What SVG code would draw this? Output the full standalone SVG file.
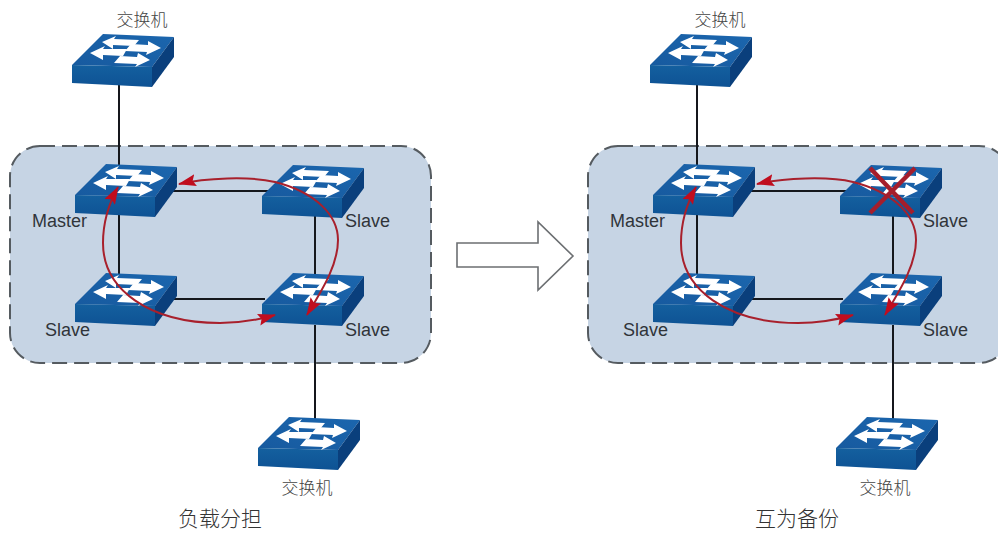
<svg xmlns="http://www.w3.org/2000/svg" xmlns:xlink="http://www.w3.org/1999/xlink" width="998" height="533" viewBox="0 0 998 533">
<style>
.panel{fill:#c6d4e4;stroke:#555b60;stroke-width:2;stroke-dasharray:15 7}
.link{fill:none;stroke:#15171c;stroke-width:2}
.red{fill:none;stroke:#a8202c;stroke-width:2}
.x{stroke:#a51e2c;stroke-width:4.5;fill:none}
.lab{font-family:"Liberation Sans",Arial,sans-serif;font-size:18px;fill:#30343a}
.cn{font-family:"Noto Sans CJK SC",sans-serif;font-size:17px;fill:#444;font-weight:300}
.cap{font-family:"Noto Sans CJK SC",sans-serif;font-size:21px;fill:#333;font-weight:300}
.big{fill:#fff;stroke:#6c6f72;stroke-width:1.6}
</style>
<defs>
<linearGradient id="gt" x1="0" y1="1" x2="1" y2="0"><stop offset="0" stop-color="#175a9f"/><stop offset="1" stop-color="#1b66ae"/></linearGradient>
<linearGradient id="gf" x1="0" y1="0" x2="0" y2="1"><stop offset="0" stop-color="#14609f"/><stop offset="1" stop-color="#0e5294"/></linearGradient>
<marker id="ah" viewBox="0 0 18 12" refX="17" refY="6" markerWidth="18" markerHeight="12" markerUnits="userSpaceOnUse" orient="auto-start-reverse"><path d="M0,0 L18,6 L0,12 L3,6 Z" fill="#c00d1e"/></marker>
<g id="sw">
<path d="M0,0 L31,-31 L102,-28 L80,2 Z" fill="url(#gt)"/>
<path d="M0,0 L80,2 L80,22 L0,18 Z" fill="url(#gf)"/>
<path d="M80,2 L102,-28 L102,-8 L80,22 Z" fill="#0a3f7c"/>
<path d="M30,-23 L44,-29 L42,-26 L67,-25 L62,-19 L41,-20 L41,-16 Z" fill="#fff"/>
<path d="M89,-17 L74,-10 L75,-13 L53,-14 L59,-21 L76,-20 L76,-24 Z" fill="#fff"/>
<path d="M18,-12 L33,-19 L31,-16 L55,-16 L51,-9 L31,-10 L31,-5 Z" fill="#fff"/>
<path d="M78,-5 L63,2 L65,-1 L42,-2 L48,-9 L65,-8 L66,-12 Z" fill="#fff"/>
</g>
</defs>
<rect width="998" height="533" fill="#fff"/>
<g id="domain-left"><rect class="panel" x="10" y="146" width="421" height="217" rx="30"/></g>
<g id="domain-right"><rect class="panel" x="588" y="146" width="421" height="217" rx="30"/></g>
<g id="connectors-left">
<path class="link" d="M119,85V165M119,215V275M170,191H285M315,215V275M170,299H265M315,325V420"/>
</g>
<g id="connectors-right">
<path class="link" d="M697,85V165M697,215V275M748,191H863M893,215V275M748,299H843M893,325V420"/>
</g>
<g id="node-top-l"><use href="#sw" x="72" y="65"/><text class="cn" x="142" y="26" text-anchor="middle">交换机</text></g>
<g id="node-master-l"><use href="#sw" x="75" y="195"/><text class="lab" x="32" y="227">Master</text></g>
<g id="node-slave1-l"><use href="#sw" x="262" y="196"/><text class="lab" x="345" y="227">Slave</text></g>
<g id="node-slave2-l"><use href="#sw" x="75" y="304"/><text class="lab" x="45" y="336">Slave</text></g>
<g id="node-slave3-l"><use href="#sw" x="262" y="304"/><text class="lab" x="345" y="336">Slave</text></g>
<g id="node-bottom-l"><use href="#sw" x="258" y="448"/><text class="cn" x="307" y="494" text-anchor="middle">交换机</text></g>
<g id="node-top-r"><use href="#sw" x="650" y="65"/><text class="cn" x="720" y="26" text-anchor="middle">交换机</text></g>
<g id="node-master-r"><use href="#sw" x="653" y="195"/><text class="lab" x="610" y="227">Master</text></g>
<g id="node-slave1-r"><use href="#sw" x="840" y="196"/><text class="lab" x="923" y="227">Slave</text></g>
<g id="node-slave2-r"><use href="#sw" x="653" y="304"/><text class="lab" x="623" y="336">Slave</text></g>
<g id="node-slave3-r"><use href="#sw" x="840" y="304"/><text class="lab" x="923" y="336">Slave</text></g>
<g id="node-bottom-r"><use href="#sw" x="836" y="448"/><text class="cn" x="885" y="494" text-anchor="middle">交换机</text></g>
<g id="flows-left">
<path class="red" marker-start="url(#ah)" marker-end="url(#ah)" d="M179,184 C205,178 250,176 275,182 C315,192 338,215 338,240 C338,265 322,290 307,315"/>
<path class="red" marker-start="url(#ah)" marker-end="url(#ah)" d="M118,187 C108,205 103,225 103,243 C103,290 150,323 220,323 C240,323 258,320 275,315"/>
</g>
<g id="flows-right">
<path class="red" marker-start="url(#ah)" marker-end="url(#ah)" d="M757,184 C783,178 828,176 853,182 C893,192 916,215 916,240 C916,265 900,290 885,315"/>
<path class="red" marker-start="url(#ah)" marker-end="url(#ah)" d="M696,187 C686,205 681,225 681,243 C681,290 728,323 798,323 C818,323 836,320 853,315"/>
<path class="x" d="M870,168L913,213M915,168L870,213"/>
</g>
<g id="transition-arrow"><path class="big" d="M457,243H538V222L573,256L538,290V267H457Z"/></g>
<text class="cap" x="220" y="526" text-anchor="middle">负载分担</text>
<text class="cap" x="797" y="526" text-anchor="middle">互为备份</text>
</svg>
